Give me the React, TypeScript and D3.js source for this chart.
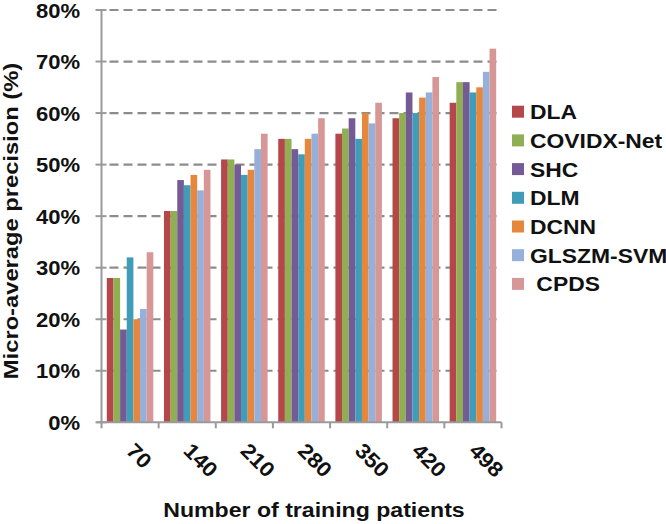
import React from "react";
import * as d3 from "d3";

const categories = ["70", "140", "210", "280", "350", "420", "498"];
const seriesNames = ["DLA", "COVIDX-Net", "SHC", "DLM", "DCNN", "GLSZM-SVM", "CPDS"];
const legendLabels = ["DLA", "COVIDX-Net", "SHC", "DLM", "DCNN", "GLSZM-SVM", " CPDS"];
const seriesColors = ["#B5464A", "#90AE52", "#745B96", "#3F9DB8", "#E6873D", "#95B0DA", "#D89797"];
// values in percent, per series, per category
const DLA = [28, 41, 51, 55, 56, 59, 62];
const COVIDX = [28, 41, 51, 55, 57, 60, 66];
const SHC = [18, 47, 50, 53, 59, 64, 66];
const DLM = [32, 46, 48, 52, 55, 60, 64];
const DCNN = [20, 48, 49, 55, 60, 63, 65];
const GLSZM = [22, 45, 53, 56, 58, 64, 68];
const CPDS = [33, 49, 56, 59, 62, 67, 72.5];
const seriesValues = [DLA, COVIDX, SHC, DLM, DCNN, GLSZM, CPDS];
const yTicks = [0, 10, 20, 30, 40, 50, 60, 70, 80];

const FONT = "'Liberation Sans', Arial, Helvetica, sans-serif";

export default function App() {
  const left = 101.5;
  const right = 501.5;
  const top = 10;
  const bottom = 422.3;

  const x0 = d3.scaleBand<string>().domain(categories).range([left, right]).padding(0);
  const bw = x0.bandwidth();
  const x1 = d3
    .scaleBand<string>()
    .domain(seriesNames)
    .range([0, bw])
    .paddingInner(0)
    .paddingOuter(0.8);
  const y = d3.scaleLinear().domain([0, 80]).range([bottom, top]);

  const axisColor = "#9A9A9A";
  const gridColor = "#8C8C8C";

  return (
    <svg
      width={666}
      height={524}
      style={{ position: "absolute", left: 0, top: 0, background: "#fff" }}
      fontFamily={FONT}
    >
      {/* gridlines */}
      {yTicks
        .filter((t) => t > 0)
        .map((t) => (
          <line
            key={"g" + t}
            x1={left + 8}
            x2={right}
            y1={y(t)}
            y2={y(t)}
            stroke={gridColor}
            strokeWidth={2.2}
            strokeDasharray="9 5"
          />
        ))}

      {/* bars */}
      {categories.map((c, ci) => (
        <g key={c} transform={`translate(${x0(c)},0)`}>
          {seriesNames.map((s, si) => {
            const v = seriesValues[si][ci];
            return (
              <rect
                key={s}
                x={x1(s)}
                y={y(v)}
                width={x1.bandwidth()}
                height={bottom - y(v)}
                fill={seriesColors[si]}
              />
            );
          })}
        </g>
      ))}

      {/* y axis */}
      <line x1={left} x2={left} y1={top} y2={bottom} stroke={axisColor} strokeWidth={2} />
      {yTicks.map((t) => (
        <g key={"yt" + t}>
          <line x1={left - 6} x2={left + 5} y1={y(t)} y2={y(t)} stroke={axisColor} strokeWidth={2} />
          <text
            transform={`translate(80,${y(t)}) scale(1.05,1)`}
            dy="0.36em"
            textAnchor="end"
            fontSize={21}
            fontWeight="bold"
            fill="#111"
          >
            {t + "%"}
          </text>
        </g>
      ))}

      {/* x axis */}
      <line x1={left - 5} x2={right} y1={bottom} y2={bottom} stroke={axisColor} strokeWidth={2} />
      {[...categories.map((c) => x0(c) as number), right].map((xx, i) => (
        <line
          key={"xt" + i}
          x1={xx}
          x2={xx}
          y1={bottom}
          y2={bottom + 6}
          stroke={axisColor}
          strokeWidth={2}
        />
      ))}
      {categories.map((c) => {
        const cx = (x0(c) as number) + bw / 2;
        return (
          <text
            key={"xl" + c}
            transform={`translate(${cx - 5},452) rotate(45) scale(1.08,1)`}
            textAnchor="start"
            fontSize={21}
            fontWeight="bold"
            fill="#111"
          >
            {c}
          </text>
        );
      })}

      {/* axis titles */}
      <text
        transform="translate(18,221) rotate(-90) scale(1.13,1)"
        textAnchor="middle"
        fontSize={21}
        fontWeight="bold"
        fill="#111"
      >
        Micro-average precision (%)
      </text>
      <text
        transform="translate(314,516.5) scale(1.1,1)"
        textAnchor="middle"
        fontSize={21}
        fontWeight="bold"
        fill="#111"
      >
        Number of training patients
      </text>

      {/* legend */}
      {legendLabels.map((l, i) => {
        const cy = 111.7 + i * 28.7;
        return (
          <g key={"lg" + i}>
            <rect x={512} y={cy - 6} width={12} height={12} fill={seriesColors[i]} />
            <text
              transform={`translate(530,${cy}) scale(1.09,1)`}
              dy="0.36em"
              fontSize={21}
              fontWeight="bold"
              fill="#111"
              style={{ whiteSpace: "pre" }}
            >
              {l}
            </text>
          </g>
        );
      })}
    </svg>
  );
}
